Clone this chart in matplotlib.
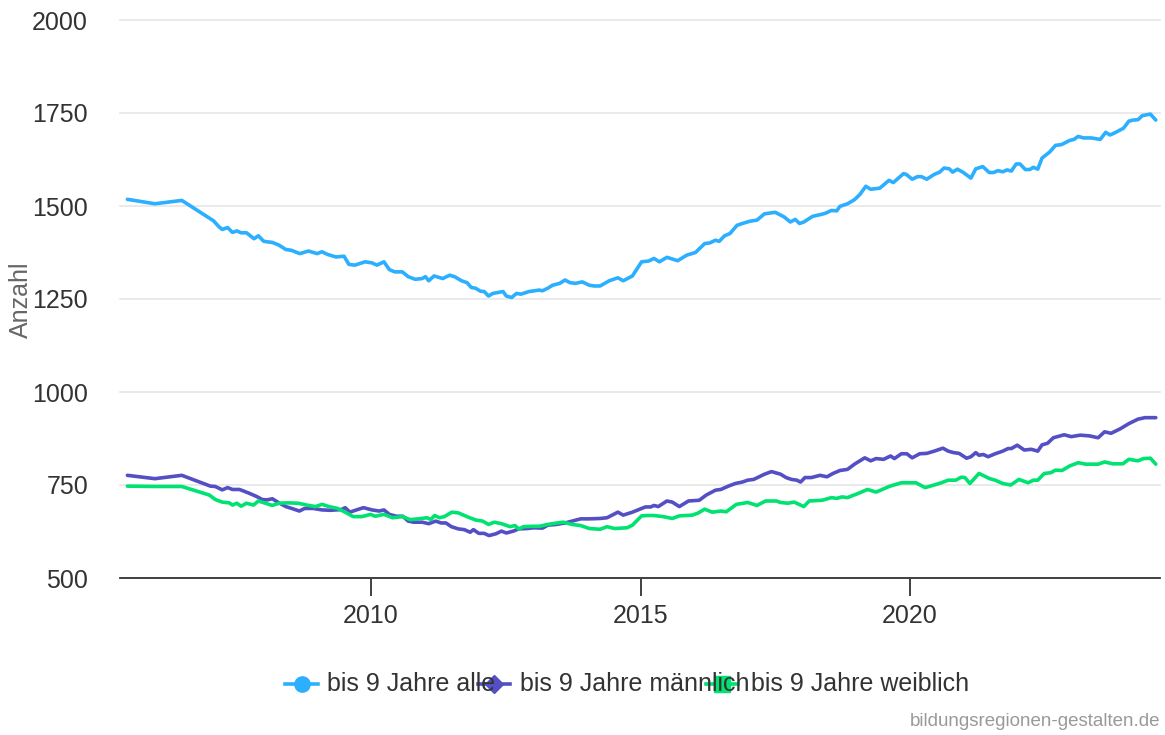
import matplotlib
matplotlib.use("Agg")
import matplotlib.pyplot as plt
from matplotlib.lines import Line2D

plt.rcParams['font.family'] = ['Liberation Sans', 'DejaVu Sans']

# Anzahl Kinder bis 9 Jahre
alle_jahr = [2005.48, 2005.99, 2006.49, 2007.08, 2007.18, 2007.24, 2007.34, 2007.43, 2007.51, 2007.59,
             2007.69, 2007.83, 2007.91, 2008.01, 2008.17, 2008.29, 2008.42, 2008.52, 2008.68, 2008.84,
             2009.00, 2009.09, 2009.19, 2009.35, 2009.50, 2009.59, 2009.70, 2009.89, 2010.02, 2010.11,
             2010.24, 2010.34, 2010.44, 2010.58, 2010.69, 2010.82, 2010.95, 2011.01, 2011.07, 2011.17,
             2011.33, 2011.46, 2011.55, 2011.68, 2011.78, 2011.86, 2011.94, 2012.03, 2012.10, 2012.18,
             2012.26, 2012.38, 2012.45, 2012.51, 2012.61, 2012.70, 2012.78, 2012.93, 2013.12, 2013.18,
             2013.28, 2013.37, 2013.50, 2013.60, 2013.69, 2013.79, 2013.92, 2014.05, 2014.14,
             2014.25, 2014.42, 2014.58, 2014.68, 2014.85, 2015.02, 2015.15, 2015.25, 2015.35, 2015.49,
             2015.69, 2015.86, 2016.02, 2016.19, 2016.29, 2016.39, 2016.46, 2016.56, 2016.66, 2016.79,
             2016.89, 2017.03, 2017.16, 2017.30, 2017.50, 2017.66, 2017.78, 2017.87, 2017.95, 2018.03,
             2018.19, 2018.37, 2018.44, 2018.54, 2018.64, 2018.70, 2018.84, 2018.97, 2019.07, 2019.18,
             2019.27, 2019.44, 2019.61, 2019.69, 2019.88, 2019.93, 2020.04, 2020.14, 2020.21, 2020.31,
             2020.45, 2020.55, 2020.63, 2020.73, 2020.79, 2020.88, 2020.98, 2021.13, 2021.22, 2021.35,
             2021.47, 2021.55, 2021.63, 2021.72, 2021.80, 2021.88, 2021.97, 2022.04, 2022.14, 2022.22,
             2022.29, 2022.37, 2022.45, 2022.59, 2022.70, 2022.81, 2022.96, 2023.04, 2023.12, 2023.22,
             2023.36, 2023.53, 2023.63, 2023.71, 2023.79, 2023.96, 2024.06, 2024.14, 2024.23, 2024.31,
             2024.46, 2024.56]
alle = [1518, 1506, 1515, 1460, 1444, 1437, 1442, 1429, 1433, 1428,
        1428, 1412, 1420, 1405, 1402, 1395, 1383, 1381, 1372, 1379,
        1372, 1377, 1370, 1363, 1365, 1343, 1341, 1350, 1347, 1341,
        1350, 1329, 1323, 1323, 1310, 1303, 1305, 1310, 1299, 1312,
        1305, 1314, 1310, 1299, 1294, 1281, 1279, 1271, 1270, 1258,
        1265, 1268, 1270, 1258, 1254, 1265, 1263, 1270, 1274, 1272,
        1279, 1287, 1292, 1301, 1294, 1292, 1296, 1287, 1285,
        1285, 1299, 1307, 1299, 1312, 1350, 1352, 1359, 1350, 1362,
        1353, 1368, 1375, 1399, 1401, 1408, 1405, 1420, 1426, 1448,
        1453, 1459, 1462, 1479, 1483, 1471, 1457, 1464, 1453, 1457,
        1472, 1478, 1481, 1488, 1487, 1499, 1506, 1517, 1531, 1553,
        1545, 1548, 1569, 1563, 1587, 1585, 1572, 1579, 1579, 1572,
        1585, 1591, 1602, 1600, 1591, 1599, 1591, 1575, 1600, 1606,
        1590, 1590, 1595, 1592, 1597, 1594, 1613, 1613, 1598, 1598,
        1604, 1599, 1629, 1645, 1663, 1665, 1676, 1679, 1687, 1683,
        1683, 1679, 1698, 1691, 1696, 1709, 1728, 1731, 1732, 1743,
        1747, 1731]

maennlich_jahr = [2005.48, 2005.99, 2006.49, 2007.02, 2007.11, 2007.24, 2007.34, 2007.43, 2007.56, 2007.72,
                  2007.88, 2007.98, 2008.07, 2008.17, 2008.29, 2008.42, 2008.55, 2008.67, 2008.77, 2008.93,
                  2009.09, 2009.25, 2009.45, 2009.52, 2009.61, 2009.73, 2009.86, 2010.02, 2010.15, 2010.24,
                  2010.34, 2010.47, 2010.59, 2010.69, 2010.79, 2010.95, 2011.07, 2011.20, 2011.30, 2011.39,
                  2011.49, 2011.62, 2011.73, 2011.84, 2011.90, 2012.00, 2012.10, 2012.19, 2012.32, 2012.42,
                  2012.51, 2012.64, 2012.74, 2012.90, 2013.02, 2013.18, 2013.28, 2013.44, 2013.60, 2013.73,
                  2013.89, 2014.05,
                  2014.25, 2014.38, 2014.58, 2014.68, 2014.85, 2015.09, 2015.19, 2015.25, 2015.33, 2015.49,
                  2015.59, 2015.72, 2015.89, 2016.09, 2016.22, 2016.39, 2016.49, 2016.63, 2016.76, 2016.89,
                  2016.99, 2017.10, 2017.30, 2017.43, 2017.60, 2017.70, 2017.80, 2017.90, 2017.97, 2018.05,
                  2018.17, 2018.33, 2018.46, 2018.57, 2018.70, 2018.84, 2018.97, 2019.07, 2019.16, 2019.27,
                  2019.37, 2019.51, 2019.64, 2019.71, 2019.84, 2019.94, 2020.04, 2020.18, 2020.31, 2020.45,
                  2020.61, 2020.71, 2020.81, 2020.91, 2021.05, 2021.13, 2021.22, 2021.28, 2021.36, 2021.45,
                  2021.58, 2021.72, 2021.82, 2021.88, 2021.99, 2022.12, 2022.25, 2022.37, 2022.45, 2022.55,
                  2022.66, 2022.86, 2022.99, 2023.16, 2023.33, 2023.49, 2023.61, 2023.73, 2023.90, 2024.06,
                  2024.23, 2024.36, 2024.56]
maennlich = [776, 767, 776, 747, 746, 737, 743, 738, 738, 729,
             719, 711, 710, 713, 702, 692, 686, 680, 687, 687,
             683, 682, 684, 689, 677, 683, 689, 683, 680, 683,
             671, 666, 666, 653, 650, 650, 646, 653, 648, 648,
             638, 632, 630, 623, 630, 620, 620, 614, 619, 626,
             621, 626, 632, 633, 635, 634, 642, 644, 648, 653,
             659, 659,
             660, 662, 677, 669, 677, 691, 691, 695, 692, 707,
             704, 692, 707, 709, 723, 736, 738, 747, 754, 758,
             763, 765, 779, 786, 779, 770, 765, 763, 758, 770,
             770, 776, 772, 781, 789, 792, 806, 815, 823, 815,
             821, 819, 828, 821, 834, 834, 823, 834, 835, 841,
             849, 841, 837, 835, 822, 826, 837, 830, 832, 826,
             834, 841, 848, 848, 857, 844, 846, 841, 858, 862,
             877, 885, 880, 884, 882, 877, 893, 889, 901, 915,
             927, 931, 931]

weiblich_jahr = [2005.48, 2005.99, 2006.49, 2007.00, 2007.11, 2007.24, 2007.37, 2007.43, 2007.51, 2007.59,
                 2007.69, 2007.82, 2007.91, 2008.04, 2008.17, 2008.29, 2008.45, 2008.65, 2008.81, 2008.97,
                 2009.09, 2009.22, 2009.38, 2009.52, 2009.67, 2009.83, 2009.99, 2010.08, 2010.24, 2010.40,
                 2010.59, 2010.72, 2010.88, 2011.04, 2011.11, 2011.18, 2011.27, 2011.36, 2011.50, 2011.62,
                 2011.78, 2011.94, 2012.07, 2012.18, 2012.29, 2012.42, 2012.58, 2012.67, 2012.74, 2012.83,
                 2012.99, 2013.12, 2013.28, 2013.41, 2013.57, 2013.73, 2013.89, 2014.05,
                 2014.25, 2014.38, 2014.52, 2014.75, 2014.85, 2015.02, 2015.12, 2015.25, 2015.42, 2015.59,
                 2015.72, 2015.96, 2016.06, 2016.19, 2016.33, 2016.49, 2016.59, 2016.78, 2016.99, 2017.16,
                 2017.32, 2017.52, 2017.60, 2017.73, 2017.85, 2018.03, 2018.13, 2018.37, 2018.54, 2018.64,
                 2018.74, 2018.84, 2018.94, 2019.00, 2019.21, 2019.37, 2019.47, 2019.61, 2019.84, 2020.11,
                 2020.28, 2020.45, 2020.58, 2020.71, 2020.85, 2020.95, 2021.02, 2021.11, 2021.28, 2021.38,
                 2021.48, 2021.58, 2021.72, 2021.87, 2022.02, 2022.19, 2022.29, 2022.37, 2022.49, 2022.61,
                 2022.70, 2022.82, 2022.96, 2023.12, 2023.26, 2023.49, 2023.61, 2023.76, 2023.95, 2024.06,
                 2024.23, 2024.33, 2024.46, 2024.56]
weiblich = [747, 746, 746, 723, 711, 704, 702, 696, 701, 693,
            701, 696, 707, 701, 695, 701, 702, 701, 696, 692,
            698, 692, 687, 677, 665, 665, 671, 666, 671, 662,
            665, 657, 659, 662, 657, 668, 662, 665, 677, 675,
            665, 656, 653, 644, 650, 646, 638, 641, 632, 638,
            639, 639, 644, 647, 650, 644, 641, 633,
            631, 638, 633, 635, 642, 667, 668, 668, 665, 660,
            667, 669, 674, 685, 677, 680, 678, 698, 703, 695,
            707, 707, 703, 701, 704, 692, 707, 709, 716, 714,
            718, 716, 722, 725, 738, 731, 737, 746, 756, 756,
            743, 750, 756, 763, 763, 771, 770, 754, 781, 774,
            767, 763, 754, 750, 765, 756, 763, 763, 781, 783,
            790, 789, 801, 810, 806, 806, 812, 807, 807, 819,
            815, 821, 822, 806]

labels = ['bis 9 Jahre alle', 'bis 9 Jahre männlich', 'bis 9 Jahre weiblich']
colors = ['#2caffe', '#544fc5', '#00e272']
markers = ['o', 'D', 's']
y_ticks = [500, 750, 1000, 1250, 1500, 1750, 2000]
x_ticks = [2010, 2015, 2020]

W, H = 1165, 735
fig = plt.figure(figsize=(W / 100, H / 100), dpi=100)
ax = fig.add_axes([120 / W, 1 - 578 / H, 1040 / W, 558 / H])

series = [(alle_jahr, alle), (maennlich_jahr, maennlich), (weiblich_jahr, weiblich)]
for (xs, ys), c in zip(series, colors):
    ax.plot(xs, ys, color=c, lw=2.6, solid_joinstyle='round', solid_capstyle='round', zorder=3)

ax.set_xlim(2005.343, 2024.638)
ax.set_ylim(500, 2000)
ax.set_yticks(y_ticks)
ax.set_xticks(x_ticks)
ax.set_xticklabels([str(t) for t in x_ticks])
ax.grid(axis='y', color='#e6e6e6', lw=1.2)
for gl in ax.get_ygridlines():
    gl.set_clip_on(False)
ax.set_axisbelow(True)
for s in ['top', 'right', 'left']:
    ax.spines[s].set_visible(False)
ax.spines['bottom'].set_color('#333333')
ax.spines['bottom'].set_linewidth(1.3)
ax.tick_params(axis='y', length=0, pad=23, labelsize=18, labelcolor='#333333')
ax.tick_params(axis='x', length=13, width=1.3, color='#333333', pad=6,
               labelsize=18, labelcolor='#333333')

fig.text(21 / W, 1 - 300 / H, 'Anzahl', rotation=90, ha='center', va='center',
         fontsize=18, color='#666666')

# legend, drawn by hand like the original (entries overlap)
leg_y = 1 - 684 / H
sym_x = [(285, 318), (478, 510), (706, 738)]
txt_x = [327, 520, 751]
for (x0, x1), tx, lab, c, m in zip(sym_x, txt_x, labels, colors, markers):
    fig.add_artist(Line2D([x0 / W, x1 / W], [leg_y, leg_y], transform=fig.transFigure,
                          color=c, lw=2.6))
    fig.add_artist(Line2D([(x0 + x1) / 2 / W], [leg_y], transform=fig.transFigure,
                          color=c, marker=m, markersize=11 if m != 'D' else 9, lw=0))
    fig.text(tx / W, leg_y, lab, ha='left', va='center', fontsize=18, color='#333333')

fig.text(1160 / W, 1 - 722 / H, 'bildungsregionen-gestalten.de', ha='right', va='center',
         fontsize=13.5, color='#999999')

fig.savefig('out.png', dpi=100)
